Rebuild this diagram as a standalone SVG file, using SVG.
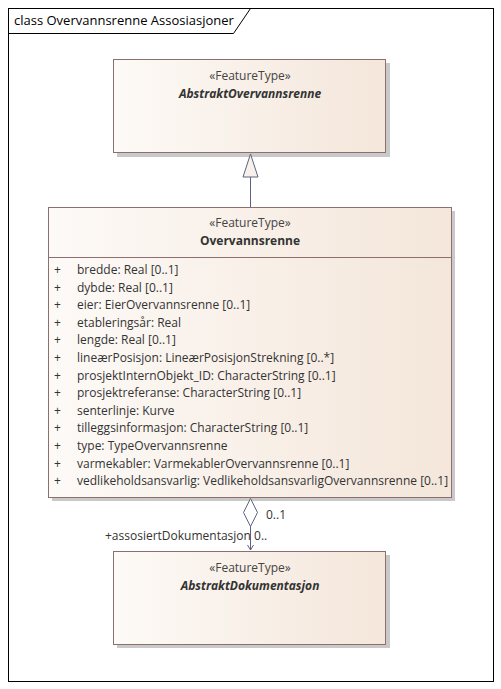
<svg xmlns="http://www.w3.org/2000/svg" width="501" height="689" viewBox="0 0 501 689">
<defs>
<linearGradient id="g" x1="0" y1="0" x2="1" y2="0">
<stop offset="0" stop-color="#FDFAF7"/>
<stop offset="1" stop-color="#F4E6DA"/>
</linearGradient>
<marker id="open" markerWidth="10" markerHeight="10" refX="8" refY="5" orient="auto" markerUnits="userSpaceOnUse" viewBox="0 0 10 10">
<path d="M3,2 L8,5 L3,8" fill="none" stroke="#5A6482" stroke-width="1"/>
</marker>
</defs>
<style>
text{font-family:"Open Sans","Noto Sans","Liberation Sans",sans-serif;font-size:12px;fill:#333}
.st{fill:#444;text-anchor:middle}
.nm{font-weight:bold;text-anchor:middle;fill:#333}
.it{font-style:italic}
.box{fill:url(#g);stroke:#8C7070;stroke-width:1}
.sh{fill:#C9C9C9}
.con{stroke:#5A6482;stroke-width:1;fill:none}
</style>
<rect width="501" height="689" fill="#fff"/>
<g id="frame">
<rect x="8.5" y="8.5" width="485" height="673" fill="none" stroke="#000" stroke-width="1"/>
<path d="M8.5,33.5 H233.5 L250.5,8.5" fill="none" stroke="#000" stroke-width="1"/>
<text x="14" y="25" style="font-size:13px;fill:#000">class Overvannsrenne Assosiasjoner</text>
</g>
<g id="AbstraktOvervannsrenne">
<rect class="sh" x="117" y="63" width="273" height="94"/>
<rect class="box" x="113.5" y="59.5" width="272" height="93"/>
<text class="st" x="250" y="80">«FeatureType»</text>
<text class="nm it" x="250" y="98">AbstraktOvervannsrenne</text>
</g>
<g id="Overvannsrenne">
<rect class="sh" x="52" y="211" width="403" height="290"/>
<rect class="box" x="48.5" y="207.5" width="403" height="290"/>
<line x1="48.5" y1="257.5" x2="451.5" y2="257.5" stroke="#8C7070"/>
<text class="st" x="250" y="227">«FeatureType»</text>
<text class="nm" x="250" y="245">Overvannsrenne</text>
<g>
<text x="54" y="274">+</text><text x="77" y="274">bredde: Real [0..1]</text>
<text x="54" y="292">+</text><text x="77" y="292">dybde: Real [0..1]</text>
<text x="54" y="309">+</text><text x="77" y="309">eier: EierOvervannsrenne [0..1]</text>
<text x="54" y="327">+</text><text x="77" y="327">etableringsår: Real</text>
<text x="54" y="344">+</text><text x="77" y="344">lengde: Real [0..1]</text>
<text x="54" y="362">+</text><text x="77" y="362">lineærPosisjon: LineærPosisjonStrekning [0..*]</text>
<text x="54" y="380">+</text><text x="77" y="380">prosjektInternObjekt_ID: CharacterString [0..1]</text>
<text x="54" y="397">+</text><text x="77" y="397">prosjektreferanse: CharacterString [0..1]</text>
<text x="54" y="415">+</text><text x="77" y="415">senterlinje: Kurve</text>
<text x="54" y="432">+</text><text x="77" y="432">tilleggsinformasjon: CharacterString [0..1]</text>
<text x="54" y="450">+</text><text x="77" y="450">type: TypeOvervannsrenne</text>
<text x="54" y="468">+</text><text x="77" y="468">varmekabler: VarmekablerOvervannsrenne [0..1]</text>
<text x="54" y="485">+</text><text x="77" y="485">vedlikeholdsansvarlig: VedlikeholdsansvarligOvervannsrenne [0..1]</text>
</g>
</g>
<g id="AbstraktDokumentasjon">
<rect class="sh" x="117" y="555" width="273" height="93"/>
<rect class="box" x="113.5" y="551.5" width="272" height="93"/>
<text class="st" x="250" y="572">«FeatureType»</text>
<text class="nm it" x="250" y="590">AbstraktDokumentasjon</text>
</g>
<g id="connectors">
<line class="con" x1="250.5" y1="177" x2="250.5" y2="207"/>
<path d="M250.5,154 L258,177 L243,177 Z" fill="#F8F0EA" stroke="#5A6482" stroke-width="1"/>
<line class="con" x1="250.5" y1="526" x2="250.5" y2="550" marker-end="url(#open)"/>
<path d="M250.5,498.5 L257.5,512.5 L250.5,526.5 L243.5,512.5 Z" fill="#fff" stroke="#5A6482" stroke-width="1"/>
<text x="266" y="519">0..1</text>
<text x="105" y="540">+assosiertDokumentasjon 0..</text>
</g>
</svg>
